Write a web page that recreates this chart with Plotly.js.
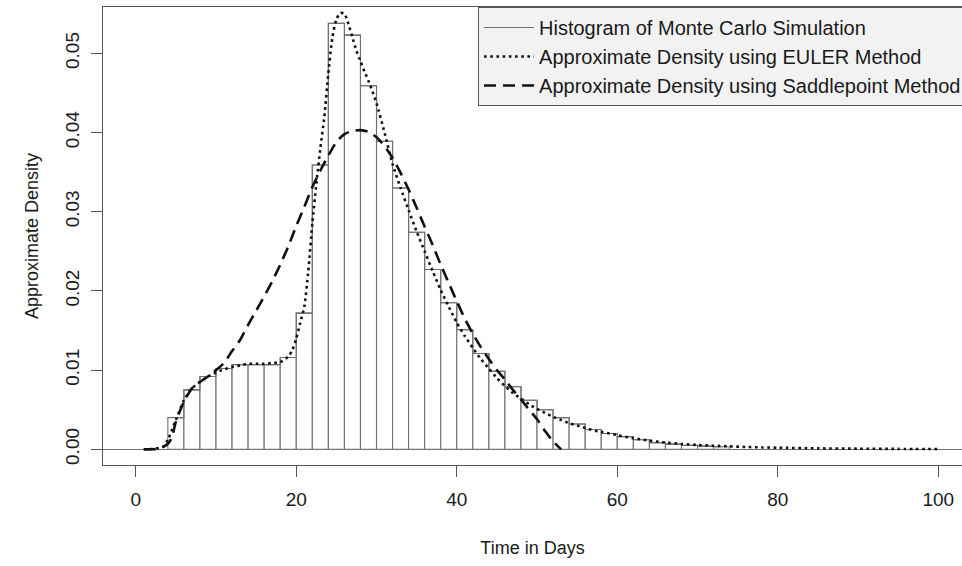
<!DOCTYPE html>
<html>
<head>
<meta charset="utf-8">
<script src="https://cdn.plot.ly/plotly-3.0.1.min.js"></script>
<style>
html,body{margin:0;padding:0;background:#fff;}
#chart{width:962px;height:566px;}
</style>
</head>
<body>
<div id="chart"></div>
<script>
// Histogram of Monte Carlo simulation: bin centres (bins are 2 days wide) and densities
const histMid = [5,7,9,11,13,15,17,19,21,23,25,27,29,31,33,35,37,39,41,43,45,47,49,51,53,55,57,59,61,63,65,67,69,71,73];
const histDensity = [0.0040,0.0075,0.0092,0.0102,0.0107,0.0107,0.0107,0.0116,0.0172,0.0359,0.0538,0.0523,0.0459,0.0389,0.0330,0.0274,0.0227,0.0185,0.0151,0.0121,0.00985,0.0079,0.0062,0.0050,0.0040,0.0032,0.0025,0.0020,0.0016,0.0012,0.00085,0.00065,0.0005,0.0004,0.00033];
const binWidth = 2;

// Approximate density, EULER method
const eulerDays = [1,2,3,3.5,4,5,6,7,8,9,10,11,12,13,14,15,16,17,18,19,19.5,20,20.5,21,21.5,22,22.5,23,23.5,24,24.5,25,25.5,26,26.5,27,27.5,28,28.5,29,29.5,30,31,32,33,34,35,36,37,38,39,40,41,42,43,44,45,46,47,48,49,50,51,52,53,54,55,56,57,58,60,62,64,66,68,70,72,74,76,78,80,85,90,95,100];
const eulerDensity = [0,0.00005,0.0002,0.0004,0.0012,0.0037,0.0062,0.0077,0.0085,0.0092,0.0097,0.0101,0.0104,0.0106,0.0108,0.0108,0.0108,0.0109,0.0110,0.0117,0.0125,0.0140,0.0160,0.0180,0.0225,0.0285,0.0335,0.0380,0.0420,0.0475,0.0520,0.0543,0.0551,0.0550,0.0537,0.0520,0.0503,0.0490,0.0477,0.0465,0.0452,0.0437,0.0400,0.0360,0.0330,0.0302,0.0275,0.0250,0.0225,0.0201,0.0180,0.0160,0.0143,0.0128,0.0114,0.0102,0.0090,0.0080,0.0071,0.0064,0.0057,0.0051,0.0046,0.0041,0.0037,0.0033,0.0030,0.0027,0.0024,0.0022,0.0018,0.0014,0.0011,0.00085,0.00068,0.00055,0.00045,0.00037,0.0003,0.00024,0.0002,0.00012,0.00008,0.00005,0.00003];

// Approximate density, Saddlepoint method
const saddleDays = [1,2,3,4,4.5,5,6,7,8,9,10,11,12,13,14,15,16,17,18,19,20,21,22,23,24,25,26,27,28,29,30,31,32,33,34,35,36,37,38,39,40,41,42,43,44,45,46,47,48,49,50,51,52,53];
const saddleDensity = [0,0,0.0001,0.0007,0.0015,0.0035,0.0060,0.0077,0.0085,0.0092,0.0100,0.0109,0.0124,0.0138,0.0157,0.0175,0.0193,0.0212,0.0233,0.0256,0.0282,0.0306,0.0331,0.0352,0.0371,0.0388,0.0398,0.0402,0.0403,0.0401,0.0394,0.0383,0.0368,0.0349,0.0328,0.0305,0.0281,0.0258,0.0233,0.0210,0.0187,0.0165,0.0146,0.0129,0.0114,0.0100,0.0088,0.0075,0.0063,0.0050,0.0038,0.0023,0.0010,0];

const xTicks = [0,20,40,60,80,100];
const yTicks = [0.00,0.01,0.02,0.03,0.04,0.05];

const names = [
  "Histogram of Monte Carlo Simulation",
  "Approximate Density using EULER Method",
  "Approximate Density using Saddlepoint Method"
];

const FONT = "Liberation Sans, Arial, Helvetica, sans-serif";

const traces = [
  {
    type: "bar",
    x: histMid,
    y: histDensity,
    width: binWidth,
    marker: {color: "#ffffff", line: {color: "#707070", width: 1.1}},
    showlegend: false,
    hoverinfo: "x+y"
  },
  {
    type: "scatter",
    mode: "lines",
    name: names[0],
    x: histMid,
    y: histDensity,
    line: {color: "#707070", width: 1.1, shape: "hvh"}
  },
  {
    type: "scatter",
    mode: "lines",
    name: names[1],
    x: eulerDays,
    y: eulerDensity,
    line: {color: "#111111", width: 2.6, dash: "2.6px,3.6px", shape: "spline", smoothing: 0.6}
  },
  {
    type: "scatter",
    mode: "lines",
    name: names[2],
    x: saddleDays,
    y: saddleDensity,
    line: {color: "#111111", width: 2.6, dash: "12px,7px", shape: "spline", smoothing: 0.6}
  }
];

const layout = {
  width: 962,
  height: 566,
  margin: {l: 103, r: 0, t: 7, b: 101, pad: 0, autoexpand: false},
  paper_bgcolor: "#ffffff",
  plot_bgcolor: "#ffffff",
  font: {family: FONT, size: 18, color: "#1a1a1a"},
  bargap: 0,
  xaxis: {
    range: [-4.08, 102.95],
    tickvals: xTicks,
    ticktext: xTicks.map(String),
    ticks: "outside",
    ticklen: 11,
    tickwidth: 1,
    tickcolor: "#555555",
    ticklabelstandoff: 6,
    showline: true,
    mirror: true,
    linecolor: "#555555",
    linewidth: 1,
    showgrid: false,
    zeroline: false,
    tickfont: {size: 19},
    title: {text: "Time in Days", font: {size: 18}, standoff: 32},
    automargin: false
  },
  yaxis: {
    range: [-0.00198, 0.05585],
    tickvals: yTicks,
    ticktext: yTicks.map(v => v.toFixed(2)),
    tickangle: -90,
    ticks: "outside",
    ticklen: 11,
    tickwidth: 1,
    tickcolor: "#555555",
    ticklabelstandoff: 4,
    showline: true,
    mirror: false,
    linecolor: "#555555",
    linewidth: 1,
    showgrid: false,
    zeroline: true,
    zerolinecolor: "#707070",
    zerolinewidth: 1.1,
    tickfont: {size: 19},
    title: {text: "Approximate Density", font: {size: 18}, standoff: 19},
    automargin: false
  },
  legend: {
    x: 0.4366,
    y: 1,
    xanchor: "left",
    yanchor: "top",
    bgcolor: "#f2f2f2",
    bordercolor: "#555555",
    borderwidth: 1,
    font: {size: 20, family: FONT},
    itemwidth: 50,
    tracegroupgap: 0
  },
  showlegend: true
};

Plotly.newPlot("chart", traces, layout, {displayModeBar: false, staticPlot: true});
</script>
</body>
</html>
